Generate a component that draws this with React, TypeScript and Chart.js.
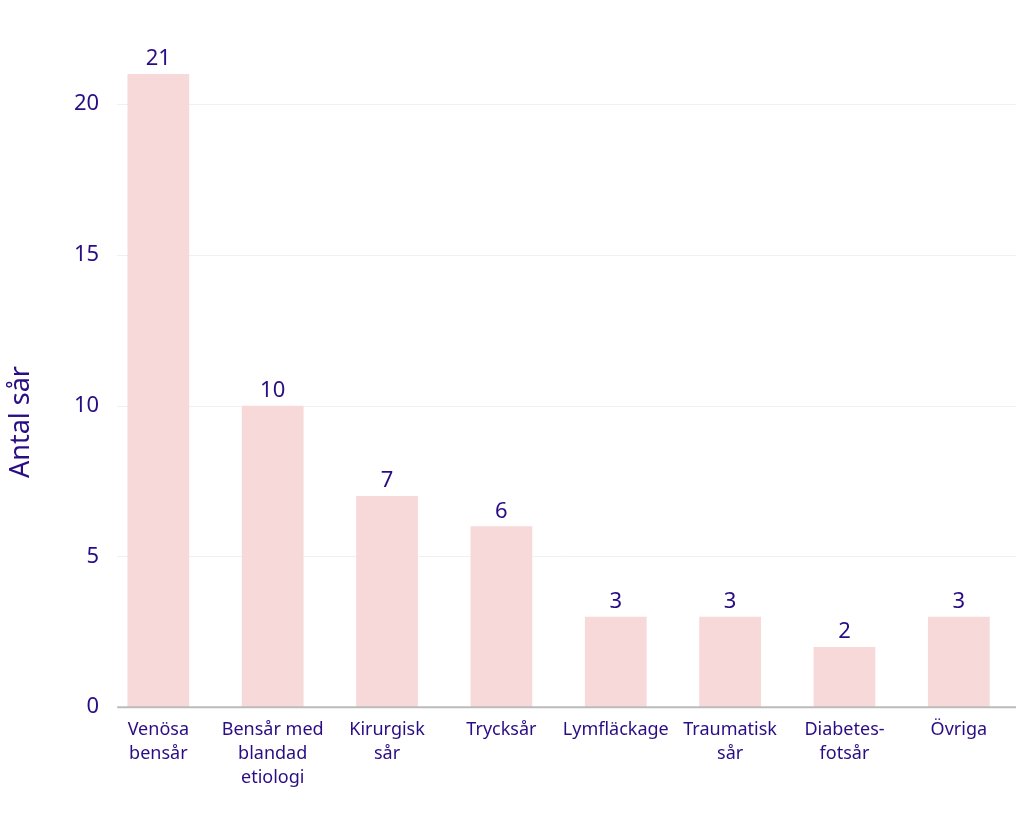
import React, { useEffect, useRef } from "react";
import { Chart, registerables } from "chart.js";

Chart.register(...registerables);

const categories: (string | string[])[] = [
  ["Venösa", "bensår"],
  ["Bensår med", "blandad", "etiologi"],
  ["Kirurgisk", "sår"],
  "Trycksår",
  "Lymfläckage",
  ["Traumatisk", "sår"],
  ["Diabetes-", "fotsår"],
  "Övriga",
];
const values: number[] = [21, 10, 7, 6, 3, 3, 2, 3];
const yTicks: number[] = [0, 5, 10, 15, 20];
const yTitle = "Antal sår";

const TEXT = "#2a0c85";
const BAR = "#f7d9d9";
const FONT = "'Noto Sans', sans-serif";

const gridPlugin = {
  id: "gridPlugin",
  beforeDatasetsDraw(chart: any) {
    const ctx = chart.ctx;
    const y = chart.scales.y;
    const area = chart.chartArea;
    const x0 = area.left + 16;
    ctx.save();
    yTicks.forEach((t) => {
      const py = y.getPixelForValue(t);
      if (t === 0) return;
      ctx.strokeStyle = "#f0f0f0";
      ctx.lineWidth = 1;
      ctx.beginPath();
      ctx.moveTo(x0, Math.round(py) + 0.5);
      ctx.lineTo(area.right, Math.round(py) + 0.5);
      ctx.stroke();
    });
    ctx.restore();
  },
  afterDatasetsDraw(chart: any) {
    const ctx = chart.ctx;
    const y = chart.scales.y;
    const area = chart.chartArea;
    const py = y.getPixelForValue(0);
    ctx.save();
    ctx.strokeStyle = "#bbbbbb";
    ctx.lineWidth = 2;
    ctx.beginPath();
    ctx.moveTo(area.left + 16, py);
    ctx.lineTo(area.right, py);
    ctx.stroke();
    ctx.restore();
  },
};

const valueLabels = {
  id: "valueLabels",
  afterDatasetsDraw(chart: any) {
    const ctx = chart.ctx;
    const meta = chart.getDatasetMeta(0);
    ctx.save();
    ctx.fillStyle = TEXT;
    ctx.font = `22px ${FONT}`;
    ctx.textAlign = "center";
    ctx.textBaseline = "bottom";
    meta.data.forEach((bar: any, i: number) => {
      ctx.fillText(String(values[i]), bar.x, bar.y - 4);
    });
    ctx.restore();
  },
};

const yTitlePlugin = {
  id: "yTitlePlugin",
  afterDraw(chart: any) {
    const ctx = chart.ctx;
    ctx.save();
    ctx.fillStyle = TEXT;
    ctx.font = `27px ${FONT}`;
    ctx.textAlign = "center";
    ctx.textBaseline = "middle";
    ctx.translate(21, 422);
    ctx.rotate(-Math.PI / 2);
    ctx.fillText(yTitle, 0, 0);
    ctx.restore();
  },
};

export default function App() {
  const ref = useRef<HTMLCanvasElement | null>(null);
  useEffect(() => {
    document.body.style.margin = "0";
    if (!ref.current) return;
    const chart = new Chart(ref.current, {
      type: "bar",
      data: {
        labels: categories as any,
        datasets: [
          {
            data: values,
            backgroundColor: BAR,
            barPercentage: 0.6,
            categoryPercentage: 0.9,
          },
        ],
      },
      options: {
        animation: false,
        responsive: false,
        maintainAspectRatio: false,
        layout: { padding: { top: 74, left: 72, right: 8, bottom: 13 } },
        plugins: {
          legend: { display: false },
          tooltip: { enabled: false },
        },
        scales: {
          x: {
            grid: { display: false, drawTicks: false },
            border: { display: false },
            ticks: {
              color: TEXT,
              font: { family: FONT, size: 18, lineHeight: 1.33 },
              maxRotation: 0,
              autoSkip: false,
              padding: 11,
            },
          },
          y: {
            min: 0,
            max: 21,
            afterBuildTicks(axis: any) {
              axis.ticks = yTicks.map((v) => ({ value: v }));
            },
            grid: { display: false, drawTicks: false },
            border: { display: false },
            ticks: {
              color: TEXT,
              font: { family: FONT, size: 22 },
              padding: 2,
            },
          },
        },
      },
      plugins: [gridPlugin, valueLabels, yTitlePlugin],
    });
    return () => chart.destroy();
  }, []);
  return (
    <div style={{ width: 1024, height: 814 }}>
      <canvas ref={ref} width={1024} height={814} style={{ width: 1024, height: 814, display: "block" }} />
    </div>
  );
}
